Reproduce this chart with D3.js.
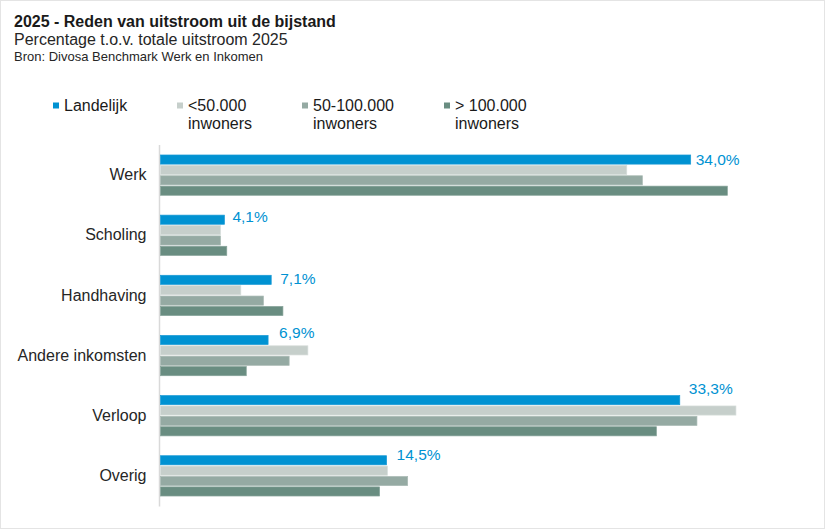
<!DOCTYPE html>
<html>
<head>
<meta charset="utf-8">
<script src="https://cdn.jsdelivr.net/npm/d3@7"></script>
<style>
  html, body { margin: 0; padding: 0; background: #fff; }
  svg { display: block; font-family: "Liberation Sans", Arial, sans-serif; }
</style>
</head>
<body>
<svg id="chart" width="825" height="529"></svg>
<script>
// ---- data ----
const categories = ["Werk", "Scholing", "Handhaving", "Andere inkomsten", "Verloop", "Overig"];
const seriesNames = ["Landelijk", "<50.000 inwoners", "50-100.000 inwoners", "> 100.000 inwoners"];
const landelijk = [34.0, 4.1, 7.1, 6.9, 33.3, 14.5];
const klein     = [29.9, 3.85, 5.15, 9.45, 36.9, 14.55];
const middel    = [30.9, 3.85, 6.6, 8.25, 34.4, 15.85];
const groot     = [36.35, 4.25, 7.85, 5.5, 31.8, 14.05];
const labelTexts = ["34,0%", "4,1%", "7,1%", "6,9%", "33,3%", "14,5%"];

// ---- layout / style (not data) ----
const colors = ["#0092d2", "#c6cfcb", "#95aaa3", "#698d81"];
const strokes = ["#1a9ad6", "#d6ddda", "#a9bab4", "#86a399"];
const legendLines = [["Landelijk"], ["<50.000", "inwoners"], ["50-100.000", "inwoners"], ["> 100.000", "inwoners"]];
const legendX = [53, 177, 302, 444];
const labelNudge = [[5, 0], [8, -3], [9, -1], [11, -8], [9, -11.5], [10, -5.5]];

const values = [landelijk, klein, middel, groot];

const svg = d3.select("#chart");

// frame
svg.append("rect").attr("x", 0.5).attr("y", 0.5).attr("width", 824).attr("height", 528)
  .attr("fill", "#fff").attr("stroke", "#e4e4e4");

// titles
svg.append("text").attr("x", 14).attr("y", 27).attr("font-size", 16).attr("font-weight", "bold")
  .attr("fill", "#1a1a1a").text("2025 - Reden van uitstroom uit de bijstand");
svg.append("text").attr("x", 14).attr("y", 44.5).attr("font-size", 16)
  .attr("fill", "#262626").text("Percentage t.o.v. totale uitstroom 2025");
svg.append("text").attr("x", 14).attr("y", 61).attr("font-size", 13)
  .attr("fill", "#262626").text("Bron: Divosa Benchmark Werk en Inkomen");

// legend
const leg = svg.append("g");
seriesNames.forEach((s, i) => {
  const g = leg.append("g");
  g.append("rect").attr("x", legendX[i]).attr("y", 102.5).attr("width", 6).attr("height", 6)
    .attr("fill", colors[i]);
  const t = g.append("text").attr("x", legendX[i] + 11).attr("y", 110.7).attr("font-size", 16)
    .attr("fill", "#1a1a1a");
  legendLines[i].forEach((line, j) => {
    t.append("tspan").attr("x", legendX[i] + 11).attr("y", 110.7 + j * 18.3).text(line);
  });
});

// scales
const x = d3.scaleLinear().domain([0, 40]).range([160.5, 784.26]);
const y = d3.scaleBand().domain(categories).range([145, 506]).paddingInner(0.33).paddingOuter(0.166);
const yInner = d3.scaleBand().domain(d3.range(4)).range([0, y.bandwidth()]).paddingInner(0.12).paddingOuter(0);

// axis line
svg.append("line").attr("x1", 159.5).attr("x2", 159.5).attr("y1", 145).attr("y2", 506.5)
  .attr("stroke", "#d9d9d9").attr("stroke-width", 1.5);

// category axis (labels only)
const yAxis = d3.axisLeft(y).tickSize(0).tickPadding(13);
const ax = svg.append("g").attr("transform", "translate(159.5,0)").call(yAxis);
ax.select(".domain").remove();
ax.selectAll("text").attr("font-size", 16).attr("fill", "#262626")
  .attr("font-family", "'Liberation Sans', Arial, sans-serif");

// bars
const groups = svg.append("g").selectAll("g").data(categories).join("g")
  .attr("transform", d => `translate(0,${y(d)})`);

groups.each(function(cat, ci) {
  const g = d3.select(this);
  values.forEach((arr, si) => {
    g.append("rect")
      .attr("x", x(0))
      .attr("y", yInner(si))
      .attr("width", x(arr[ci]) - x(0))
      .attr("height", yInner.bandwidth())
      .attr("fill", colors[si])
      .attr("stroke", strokes[si])
      .attr("stroke-width", 0.7);
  });
});

// data labels for Landelijk
svg.append("g").selectAll("text").data(categories).join("text")
  .attr("x", (d, i) => x(landelijk[i]) + labelNudge[i][0])
  .attr("y", (d, i) => y(d) + yInner(0) + yInner.bandwidth() / 2 + labelNudge[i][1])
  .attr("dy", "0.36em")
  .attr("font-size", 15.5)
  .attr("fill", "#0092d2")
  .text((d, i) => labelTexts[i]);
</script>
</body>
</html>
